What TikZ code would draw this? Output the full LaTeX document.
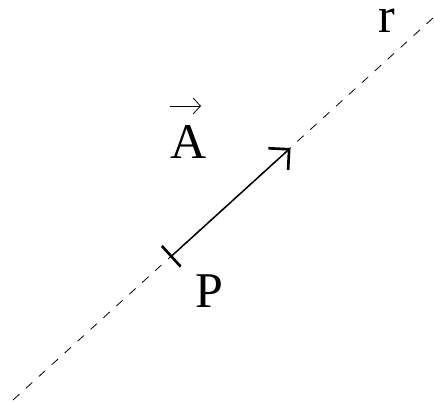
\documentclass[tikz,border=0pt]{standalone}
\usepackage{fontspec}
\setmainfont{Liberation Serif}
\usetikzlibrary{arrows.meta}
\begin{document}
\begin{tikzpicture}[x=0.75pt,y=-0.75pt,
  lbl/.style={inner sep=0pt, font=\fontsize{37.5}{40}\selectfont},
  axisline/.style={dash pattern=on 6.4pt off 6.7pt, line width=0.6pt},
  vecline/.style={line width=1.1pt, {Bar[width=21pt,line width=2pt]}-{Straight Barb[length=11pt,width=22pt,line width=2pt,sharp]}},
  overarrow/.style={line width=0.6pt, -{Straight Barb[length=5.5pt,width=12pt]}}
]
\useasboundingbox (0,0) rectangle (434,403);
\coordinate (r0) at (13,400);
\coordinate (r1) at (433,18);
\draw[axisline] (r0) -- (r1);
\coordinate (P) at (170.3,257.2);
\coordinate (T) at (290.5,148);
\draw[vecline] (P) -- (T);
\node[lbl, anchor=base west, text height=0.46em] (rl) at (378,33) {r};
\node[lbl, anchor=base west] (Al) at (170,158) {A};
\node[lbl, anchor=base west] (Pl) at (195,307) {P};
\coordinate (a0) at (170,106);
\coordinate (a1) at (201,106);
\draw[overarrow] (a0) -- (a1);
\end{tikzpicture}
\end{document}
